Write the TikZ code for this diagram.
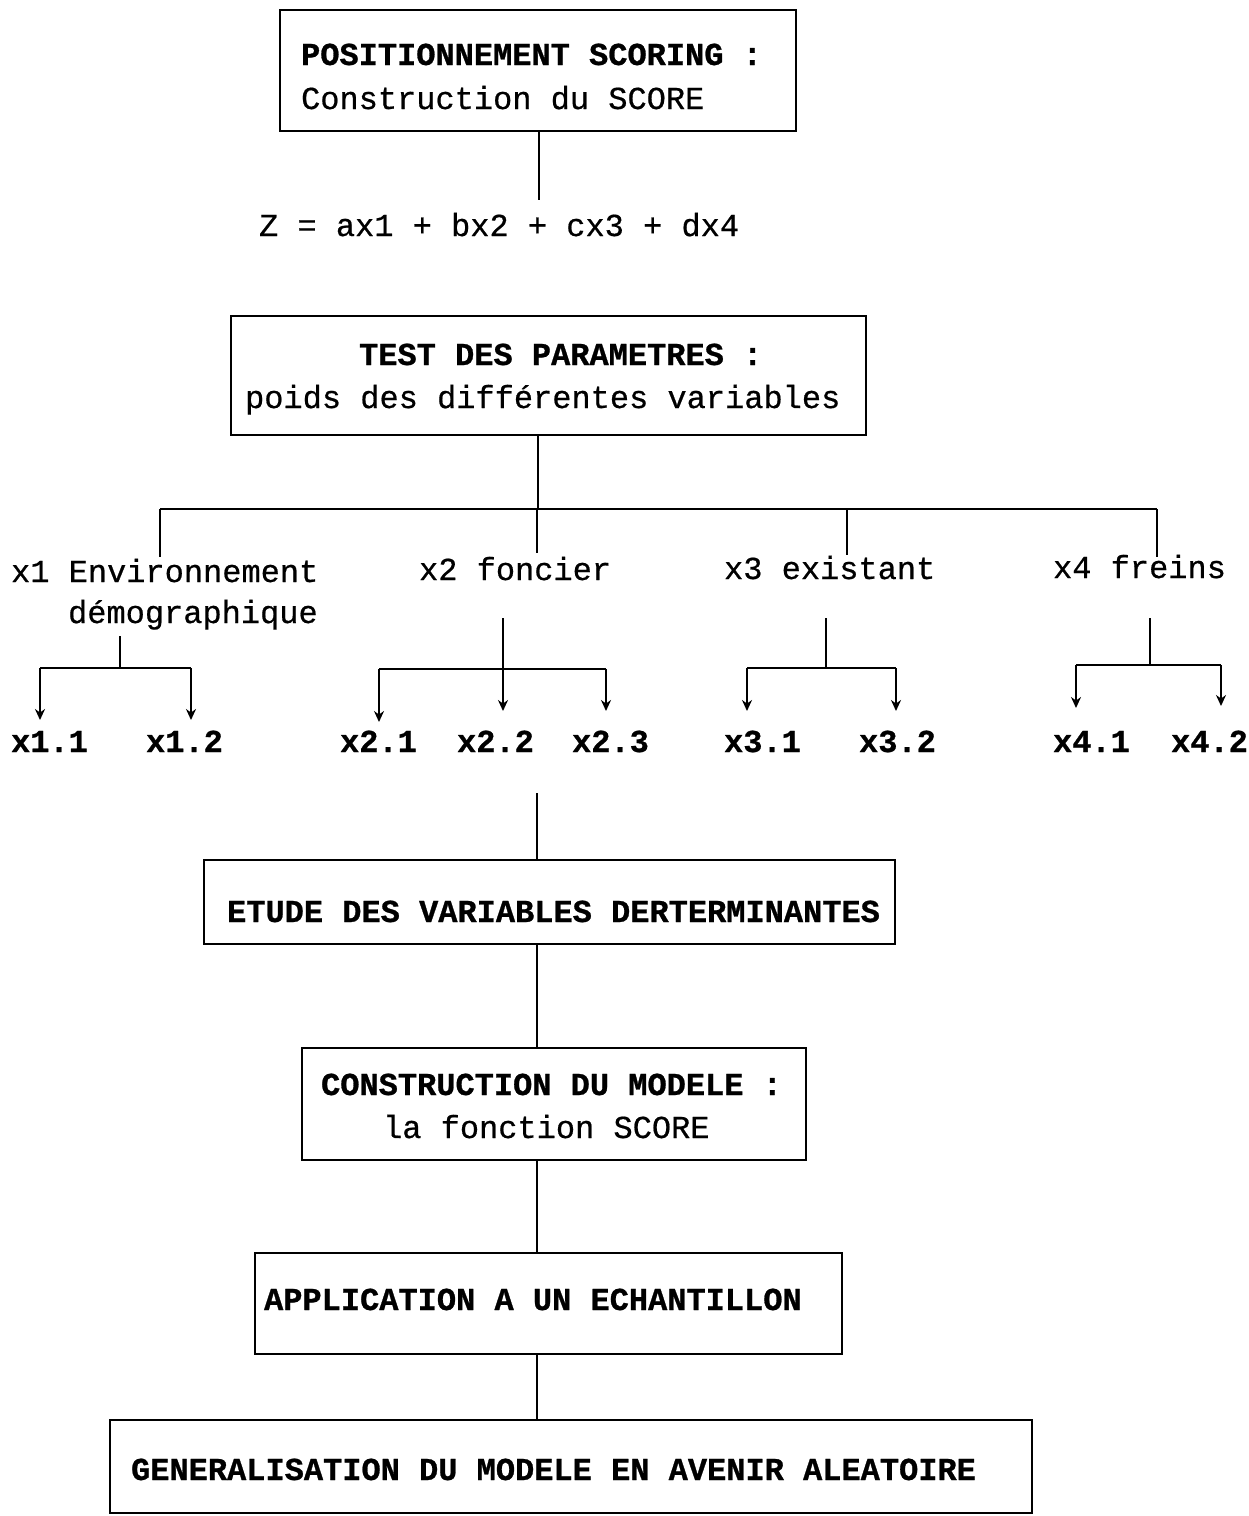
\documentclass[tikz,border=0pt]{standalone}
\usepackage{fontspec}
\setmainfont{Liberation Mono}[UprightFeatures={FakeBold=0.6},BoldFeatures={FakeBold=0.8}]
\usetikzlibrary{arrows.meta}
\begin{document}
\begin{tikzpicture}[x=1pt,y=-1pt,
  line width=2.2pt,
  box/.style={draw, line width=2.2pt, inner sep=0pt, rectangle},
  txt/.style={inner sep=0pt, anchor=base west, font=\fontsize{32}{43}\selectfont},
  btxt/.style={inner sep=0pt, anchor=base west, font=\fontsize{32}{43}\selectfont\bfseries},
  arr/.style={-{Stealth[length=11pt,width=10pt]}},
]
\useasboundingbox (0,0) rectangle (1249,1516);

% boxes
\node[box, minimum width=516pt, minimum height=121pt] (b1) at (538,70.5) {};
\node[box, minimum width=635pt, minimum height=119pt] (b2) at (548.5,375.5) {};
\node[box, minimum width=691pt, minimum height=84pt] (b3) at (549.5,902) {};
\node[box, minimum width=504pt, minimum height=112pt] (b4) at (554,1104) {};
\node[box, minimum width=587pt, minimum height=101pt] (b5) at (548.5,1303.5) {};
\node[box, minimum width=922pt, minimum height=93pt] (b6) at (571,1466.5) {};

% texts
\node[btxt] (t1a) at (300,65) {POSITIONNEMENT SCORING :};
\node[txt] (t1b) at (300,109) {Construction du SCORE};
\node[txt] (z) at (258,236) {Z = ax1 + bx2 + cx3 + dx4};
\node[btxt] (t2a) at (358,365) {TEST DES PARAMETRES :};
\node[txt] (t2b) at (244,408) {poids des différentes variables};
\node[btxt] (t3) at (226,922) {ETUDE DES VARIABLES DERTERMINANTES};
\node[btxt] (t4a) at (320,1095) {CONSTRUCTION DU MODELE :};
\node[txt] (t4b) at (382,1138) {la fonction SCORE};
\node[btxt] (t5) at (263,1310) {APPLICATION A UN ECHANTILLON};
\node[btxt] (t6) at (130,1480) {GENERALISATION DU MODELE EN AVENIR ALEATOIRE};

% variable labels
\node[txt] (l1) at (10,582) {x1 Environnement};
\node[txt] (l1b) at (67,623) {démographique};
\node[txt] (l2) at (418,580) {x2 foncier};
\node[txt] (l3) at (723,579) {x3 existant};
\node[txt] (l4) at (1052,578) {x4 freins};

\node[btxt] (s11) at (10,752) {x1.1};
\node[btxt] (s12) at (145,752) {x1.2};
\node[btxt] (s21) at (339,752) {x2.1};
\node[btxt] (s22) at (456,752) {x2.2};
\node[btxt] (s23) at (571,752) {x2.3};
\node[btxt] (s31) at (723,752) {x3.1};
\node[btxt] (s32) at (858,752) {x3.2};
\node[btxt] (s41) at (1052,752) {x4.1};
\node[btxt] (s42) at (1170,752) {x4.2};

% coordinates
\coordinate (zc) at (539,200);
\coordinate (bus) at (538,509);
\coordinate (bL) at (160,509);
\coordinate (bR) at (1157,509);
\coordinate (d1) at (160,557);
\coordinate (d2) at (537,553);
\coordinate (d3) at (847,555);
\coordinate (d4) at (1157,557);

\coordinate (v1t) at (120,636); \coordinate (v1b) at (120,668);
\coordinate (h1l) at (40,668);  \coordinate (h1r) at (191,668);
\coordinate (a11) at (40,720);  \coordinate (a12) at (191,720);

\coordinate (v2t) at (503,618);
\coordinate (h2l) at (379,669); \coordinate (h2r) at (606,669);
\coordinate (a21) at (379,722); \coordinate (a22) at (503,711); \coordinate (a23) at (606,711);

\coordinate (v3t) at (826,618); \coordinate (v3b) at (826,668);
\coordinate (h3l) at (747,668); \coordinate (h3r) at (896,668);
\coordinate (a31) at (747,711); \coordinate (a32) at (896,711);

\coordinate (v4t) at (1150,618); \coordinate (v4b) at (1150,665);
\coordinate (h4l) at (1076,665); \coordinate (h4r) at (1221,665);
\coordinate (a41) at (1076,708); \coordinate (a42) at (1221,706);

\coordinate (sp) at (537,793);

% connectors
\draw (b1.south -| zc) -- (zc);
\draw (b2.south -| bus) -- (bus);
\draw (bL) -- (bR);
\draw (bL) -- (d1);
\draw (bus -| d2) -- (d2);
\draw (bus -| d3) -- (d3);
\draw (bR) -- (d4);

\draw (v1t) -- (v1b);
\draw (h1l) -- (h1r);
\draw[arr] (h1l) -- (a11);
\draw[arr] (h1r) -- (a12);

\draw (h2l) -- (h2r);
\draw[arr] (v2t) -- (a22);
\draw[arr] (h2l) -- (a21);
\draw[arr] (h2r) -- (a23);

\draw (v3t) -- (v3b);
\draw (h3l) -- (h3r);
\draw[arr] (h3l) -- (a31);
\draw[arr] (h3r) -- (a32);

\draw (v4t) -- (v4b);
\draw (h4l) -- (h4r);
\draw[arr] (h4l) -- (a41);
\draw[arr] (h4r) -- (a42);

\draw (sp) -- (b3.north -| sp);
\draw (b3.south -| sp) -- (b4.north -| sp);
\draw (b4.south -| sp) -- (b5.north -| sp);
\draw (b5.south -| sp) -- (b6.north -| sp);
\end{tikzpicture}
\end{document}
